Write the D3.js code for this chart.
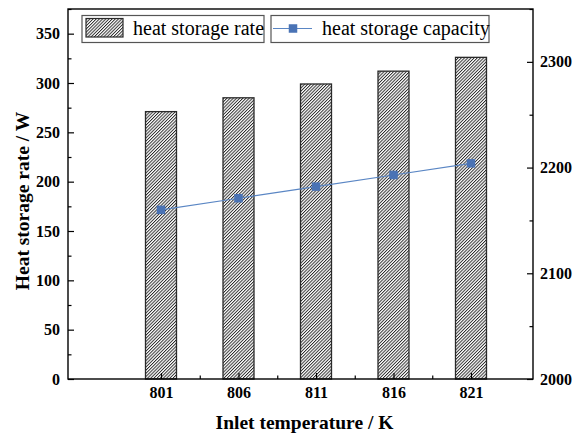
<!DOCTYPE html>
<html>
<head>
<meta charset="utf-8">
<script src="https://cdn.jsdelivr.net/npm/d3@7"></script>
<style>
  html, body { margin: 0; padding: 0; background: #fff; }
  svg { display: block; }
  text { font-family: "Times New Roman", "Liberation Serif", "DejaVu Serif", serif; }
</style>
</head>
<body>
<svg id="chart" width="580" height="437"></svg>
<script>
// Inlet temperature (K)
const temperatures = [801, 806, 811, 816, 821];
// Heat storage rate (W), left axis
const storageRate = [271, 285, 299, 312, 326];
// Heat storage capacity, right axis
const storageCapacity = [2160, 2171, 2182, 2193, 2204];

const leftTicks = [0, 50, 100, 150, 200, 250, 300, 350];
const leftMinor = [25, 75, 125, 175, 225, 275, 325, 375];
const rightTicks = [2000, 2100, 2200, 2300];
const rightMinor = [2050, 2150, 2250, 2350];
const xMinor = [803.5, 808.5, 813.5, 818.5];

const plot = { left: 68, right: 533, top: 9, bottom: 379 };
const serif = '"Times New Roman", "Liberation Serif", "DejaVu Serif", serif';

const svg = d3.select("#chart");

const x = d3.scaleLinear().domain([795, 825]).range([plot.left, plot.right]);
const yL = d3.scaleLinear().domain([0, 375]).range([plot.bottom, plot.top]);
const yR = d3.scaleLinear().domain([2000, 2350]).range([plot.bottom, plot.top]);

// diagonal hatch fill for the bars
const defs = svg.append("defs");
const hs = 2.25;
const pat = defs.append("pattern")
  .attr("id", "hatch")
  .attr("patternUnits", "userSpaceOnUse")
  .attr("width", hs).attr("height", hs)
  .attr("patternTransform", "rotate(45)");
pat.append("rect").attr("width", hs).attr("height", hs).attr("fill", "#fff");
pat.append("line")
  .attr("x1", 0.5).attr("y1", 0).attr("x2", 0.5).attr("y2", hs)
  .attr("stroke", "#111").attr("stroke-width", 0.85);

// bars
const barW = x(801 + 1) - x(801 - 1);
svg.append("g").selectAll("rect")
  .data(temperatures.map((t, i) => ({ t, v: storageRate[i] })))
  .join("rect")
  .attr("x", d => x(d.t) - barW / 2)
  .attr("y", d => yL(d.v))
  .attr("width", barW)
  .attr("height", d => yL(0) - yL(d.v))
  .attr("fill", "url(#hatch)")
  .attr("stroke", "#2a2a2a")
  .attr("stroke-width", 1.3);

// capacity line with square markers
const lineColor = "#5a86c4";
const markColor = "#4a73b5";
const pts = temperatures.map((t, i) => ({ t, v: storageCapacity[i] }));
svg.append("path")
  .datum(pts)
  .attr("fill", "none")
  .attr("stroke", lineColor)
  .attr("stroke-width", 1.1)
  .attr("d", d3.line().x(d => x(d.t)).y(d => yR(d.v)));
const ms = 8.5;
svg.append("g").selectAll("rect")
  .data(pts)
  .join("rect")
  .attr("x", d => x(d.t) - ms / 2)
  .attr("y", d => yR(d.v) - ms / 2)
  .attr("width", ms).attr("height", ms)
  .attr("fill", markColor);

// axes
function styleAxis(g) {
  g.attr("font-family", serif).attr("font-size", 16);
  g.select(".domain").remove();
  g.selectAll(".tick line").attr("stroke", "#000").attr("stroke-width", 1.2);
  g.selectAll("text")
    .attr("font-weight", "bold")
    .attr("fill", "#000");
}

svg.append("g").attr("transform", `translate(${plot.left},0)`)
  .call(d3.axisLeft(yL).tickValues(leftTicks).tickSize(-6).tickPadding(8).tickFormat(d3.format("d")))
  .call(styleAxis);
svg.append("g").attr("transform", `translate(${plot.left},0)`)
  .call(d3.axisLeft(yL).tickValues(leftMinor).tickSize(-3.5).tickFormat(""))
  .call(styleAxis);

svg.append("g").attr("transform", `translate(${plot.right},0)`)
  .call(d3.axisRight(yR).tickValues(rightTicks).tickSize(-6).tickPadding(7).tickFormat(d3.format("d")))
  .call(styleAxis);
svg.append("g").attr("transform", `translate(${plot.right},0)`)
  .call(d3.axisRight(yR).tickValues(rightMinor).tickSize(-3.5).tickFormat(""))
  .call(styleAxis);

svg.append("g").attr("transform", `translate(0,${plot.bottom})`)
  .call(d3.axisBottom(x).tickValues(temperatures).tickSize(-6).tickPadding(8).tickFormat(d3.format("d")))
  .call(styleAxis);
svg.append("g").attr("transform", `translate(0,${plot.bottom})`)
  .call(d3.axisBottom(x).tickValues(xMinor).tickSize(-3.5).tickFormat(""))
  .call(styleAxis);

// frame
svg.append("rect")
  .attr("x", plot.left).attr("y", plot.top)
  .attr("width", plot.right - plot.left)
  .attr("height", plot.bottom - plot.top)
  .attr("fill", "none")
  .attr("stroke", "#000")
  .attr("stroke-width", 1.4);

// axis titles
svg.append("text")
  .attr("x", (plot.left + plot.right) / 2 + 4)
  .attr("y", 429)
  .attr("text-anchor", "middle")
  .attr("font-family", serif)
  .attr("font-weight", "bold")
  .attr("font-size", 19.5)
  .text("Inlet temperature / K");

svg.append("text")
  .attr("transform", "translate(29,201) rotate(-90)")
  .attr("text-anchor", "middle")
  .attr("font-family", serif)
  .attr("font-weight", "bold")
  .attr("font-size", 19.5)
  .text("Heat storage rate / W");

// legend
const leg = svg.append("g").attr("font-family", serif);
leg.append("rect")
  .attr("x", 82).attr("y", 15.5).attr("width", 182).attr("height", 27)
  .attr("fill", "#fff").attr("stroke", "#555").attr("stroke-width", 1.2);
leg.append("rect")
  .attr("x", 86).attr("y", 18.5).attr("width", 37).attr("height", 18.5)
  .attr("fill", "url(#hatch)").attr("stroke", "#2a2a2a").attr("stroke-width", 1.2);
leg.append("text")
  .attr("x", 133).attr("y", 35)
  .attr("font-size", 20)
  .text("heat storage rate");

leg.append("rect")
  .attr("x", 271).attr("y", 15.5).attr("width", 218).attr("height", 27)
  .attr("fill", "#fff").attr("stroke", "#555").attr("stroke-width", 1.2);
leg.append("line")
  .attr("x1", 273).attr("x2", 312).attr("y1", 28.5).attr("y2", 28.5)
  .attr("stroke", lineColor).attr("stroke-width", 1.1);
leg.append("rect")
  .attr("x", 293 - ms / 2).attr("y", 28.5 - ms / 2).attr("width", ms).attr("height", ms)
  .attr("fill", markColor);
leg.append("text")
  .attr("x", 322).attr("y", 35)
  .attr("font-size", 20)
  .text("heat storage capacity");
</script>
</body>
</html>
